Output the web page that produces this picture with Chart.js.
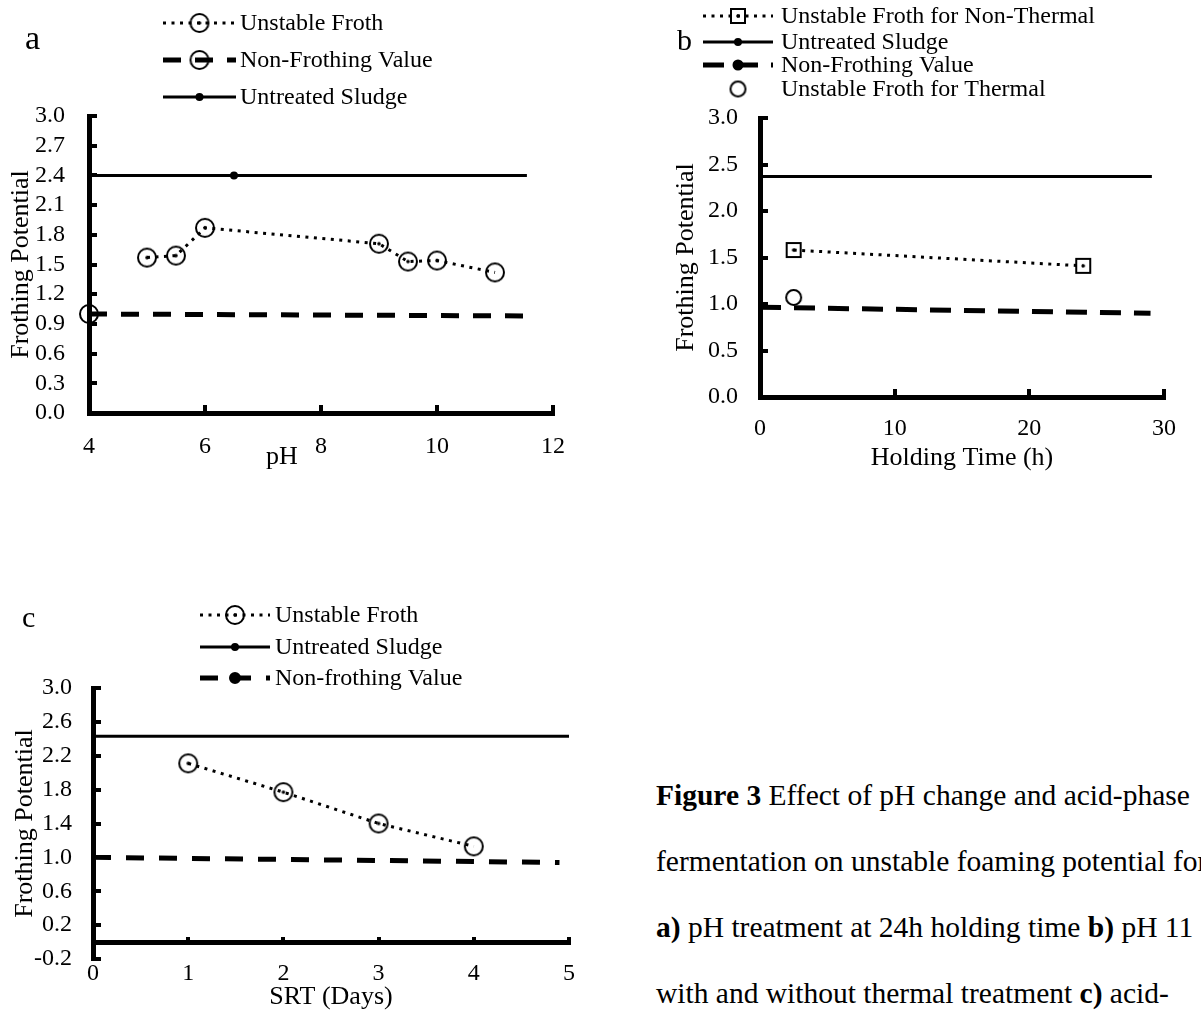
<!DOCTYPE html>
<html>
<head>
<meta charset="utf-8">
<script src="https://cdn.jsdelivr.net/npm/chart.js@4"></script>
<style>
  body { margin: 0; background: #fff; width: 1201px; height: 1013px; overflow: hidden; position: relative;
         font-family: "Liberation Serif", "Times New Roman", serif; color: #000; }
  .panel { position: absolute; }
  .letter { position: absolute; line-height: 1; }
  .caption { position: absolute; left: 656px; top: 762px; font-size: 29.5px; line-height: 66px; white-space: nowrap; }
</style>
</head>
<body>
<div class="panel" style="left:0;top:0;width:600px;height:480px"><canvas id="chartA"></canvas></div>
<div class="panel" style="left:600px;top:0;width:601px;height:480px"><canvas id="chartB"></canvas></div>
<div class="panel" style="left:0;top:590px;width:600px;height:450px"><canvas id="chartC"></canvas></div>

<div class="letter" style="left:25px;top:21px;font-size:34px">a</div>
<div class="letter" style="left:677px;top:25px;font-size:30px">b</div>
<div class="letter" style="left:22px;top:602px;font-size:30px">c</div>

<div class="caption"><b>Figure 3</b> Effect of pH change and acid-phase<br>fermentation on unstable foaming potential for<br><b>a)</b> pH treatment at 24h holding time <b>b)</b> pH 11<br>with and without thermal treatment <b>c)</b> acid-</div>

<script>
// panel a - pH treatment
const phValues = [5, 5.5, 6, 9, 9.5, 10, 11];
const phFroth = [1.57, 1.59, 1.87, 1.71, 1.53, 1.54, 1.42];
const phSludgeX = [4, 6.5, 11.55];
const phSludgeY = [2.4, 2.4, 2.4];
const phNonFrothX = [4, 11.7];
const phNonFrothY = [1.0, 0.98];
const phXTicks = [4, 6, 8, 10, 12];
const phYTicks = [0, 0.3, 0.6, 0.9, 1.2, 1.5, 1.8, 2.1, 2.4, 2.7, 3.0];

// panel b - holding time
const holdTimes = [2.5, 24];
const holdFrothNonThermal = [1.58, 1.41];
const holdThermalX = [2.5];
const holdThermalY = [1.07];
const holdSludgeX = [0, 29.1];
const holdSludgeY = [2.37, 2.37];
const holdNonFrothX = [0, 29];
const holdNonFrothY = [0.965, 0.9];
const holdXTicks = [0, 10, 20, 30];
const holdYTicks = [0, 0.5, 1.0, 1.5, 2.0, 2.5, 3.0];

// panel c - SRT
const srtDays = [1, 2, 3, 4];
const srtFroth = [2.11, 1.77, 1.40, 1.13];
const srtSludgeX = [0, 5];
const srtSludgeY = [2.43, 2.43];
const srtNonFrothX = [0, 4.9];
const srtNonFrothY = [1.0, 0.94];
const srtXTicks = [0, 1, 2, 3, 4, 5];
const srtYTicks = [-0.2, 0.2, 0.6, 1.0, 1.4, 1.8, 2.2, 2.6, 3.0];

Chart.defaults.font.family = '"Liberation Serif", "Times New Roman", serif';
Chart.defaults.color = '#000';
Chart.defaults.animation = false;
Chart.defaults.events = [];
Chart.defaults.plugins.legend.display = false;
Chart.defaults.plugins.tooltip.enabled = false;

const pts = (xs, ys) => xs.map((x, i) => ({ x: x, y: ys[i] }));

function marker(shape, size, dot) {
  const c = document.createElement('canvas');
  c.width = c.height = size + 6;
  const g = c.getContext('2d');
  const m = c.width / 2;
  g.strokeStyle = '#000';
  g.lineWidth = 2;
  g.beginPath();
  if (shape === 'circle') g.arc(m, m, size / 2, 0, Math.PI * 2);
  else g.rect(m - size / 2, m - size / 2, size, size);
  g.stroke();
  if (dot) {
    g.fillStyle = '#000';
    g.beginPath();
    g.arc(m, m, 1.8, 0, Math.PI * 2);
    g.fill();
  }
  return c;
}
const circleDot = marker('circle', 18, true);
const circlePlain = marker('circle', 18, false);
const circleSmall = marker('circle', 15, false);
const squareDot = marker('square', 14, true);

// legend with line sample + marker, drawn like the spreadsheet legend
const refLegend = {
  id: 'refLegend',
  afterDraw(chart, args, opts) {
    const ctx = chart.ctx;
    ctx.save();
    ctx.font = '24px "Liberation Serif"';
    ctx.textBaseline = 'middle';
    ctx.fillStyle = '#000';
    ctx.strokeStyle = '#000';
    chart.data.datasets.forEach((ds, i) => {
      const y = opts.rows[i];
      if (ds.showLine !== false) {
        ctx.lineWidth = ds.borderWidth;
        ctx.setLineDash(ds.borderDash || []);
        ctx.beginPath();
        ctx.moveTo(opts.x0, y);
        ctx.lineTo(opts.x1, y);
        ctx.stroke();
      }
      ctx.setLineDash([]);
      const mk = ds.legendMarker || { style: Array.isArray(ds.pointStyle) ? ds.pointStyle[0] : ds.pointStyle, r: 8 };
      Chart.helpers.drawPoint(ctx, { pointStyle: mk.style, radius: mk.r, borderWidth: 1, rotation: 0 }, (opts.x0 + opts.x1) / 2, y);
      ctx.fillText(ds.label, opts.textX, y + 1);
    });
    ctx.restore();
  }
};

function axis(ticksArr, size, opts) {
  const horizontal = opts.horizontal;
  return Object.assign({
    type: 'linear',
    min: ticksArr[0],
    max: ticksArr[ticksArr.length - 1],
    afterBuildTicks: s => { s.ticks = ticksArr.map(v => ({ value: v })); },
    afterFit: s => { if (horizontal) s.height = size; else s.width = size; },
    border: { width: 5, color: '#000' },
    grid: { drawOnChartArea: false, tickLength: -8, lineWidth: 4, color: '#000' },
    ticks: { font: { size: 24 }, padding: opts.padding, maxRotation: 0, autoSkip: false,
             callback: v => opts.decimals ? v.toFixed(1) : String(v) },
    title: { display: true, text: opts.title, font: { size: 26 }, padding: opts.titlePadding }
  }, opts.extra || {});
}

const dotted = { borderColor: '#000', backgroundColor: '#000', borderWidth: 3, borderDash: [3, 5.5], tension: 0, clip: false };
const solid = { borderColor: '#000', backgroundColor: '#000', borderWidth: 3, tension: 0, clip: false };
const dashed = { borderColor: '#000', backgroundColor: '#000', borderWidth: 5, tension: 0, clip: false };

new Chart(document.getElementById('chartA'), {
  type: 'line',
  data: {
    datasets: [
      Object.assign({}, dotted, {
        label: 'Unstable Froth',
        data: pts(phValues, phFroth),
        pointStyle: phValues.map((v, i) => i === phValues.length - 1 ? circlePlain : circleDot),
        pointRadius: 9
      }),
      Object.assign({}, dashed, {
        label: 'Non-Frothing Value',
        data: pts(phNonFrothX, phNonFrothY),
        borderDash: [18, 14],
        pointStyle: circlePlain,
        pointRadius: [9, 0]
      }),
      Object.assign({}, solid, {
        label: 'Untreated Sludge',
        data: pts(phSludgeX, phSludgeY),
        pointStyle: 'circle',
        pointRadius: [0, 2.5, 0],
        legendMarker: { style: 'circle', r: 2.5 }
      })
    ]
  },
  options: {
    responsive: true,
    maintainAspectRatio: false,
    layout: { padding: { top: 116, left: 0, right: 47, bottom: 0 } },
    scales: {
      x: axis(phXTicks, 67, { horizontal: true, padding: 27, title: 'pH\u2003\u2003\u2003', titlePadding: { bottom: 7 } }),
      y: axis(phYTicks, 89, { padding: 32, decimals: true, title: 'Frothing Potential', titlePadding: { top: 6 } })
    },
    plugins: { refLegend: { x0: 163, x1: 236, textX: 240, rows: [23, 60, 97] } }
  },
  plugins: [refLegend]
});

new Chart(document.getElementById('chartB'), {
  type: 'line',
  data: {
    datasets: [
      Object.assign({}, dotted, {
        label: 'Unstable Froth for Non-Thermal',
        data: pts(holdTimes, holdFrothNonThermal),
        pointStyle: squareDot,
        pointRadius: 8
      }),
      Object.assign({}, solid, {
        label: 'Untreated Sludge',
        data: pts(holdSludgeX, holdSludgeY),
        pointRadius: 0,
        legendMarker: { style: 'circle', r: 2.5 }
      }),
      Object.assign({}, dashed, {
        label: 'Non-Frothing Value',
        data: pts(holdNonFrothX, holdNonFrothY),
        borderDash: [21, 13],
        pointRadius: 0,
        legendMarker: { style: 'circle', r: 3 }
      }),
      Object.assign({}, solid, {
        label: 'Unstable Froth for Thermal',
        data: pts(holdThermalX, holdThermalY),
        showLine: false,
        pointStyle: circleSmall,
        pointRadius: 8
      })
    ]
  },
  options: {
    responsive: true,
    maintainAspectRatio: false,
    layout: { padding: { top: 118, left: 70, right: 24, bottom: 0 } },
    scales: {
      x: axis(holdXTicks, 83, { horizontal: true, padding: 25, title: 'Holding Time (h)', titlePadding: { bottom: 6 } }),
      y: axis(holdYTicks, 90, { padding: 30, decimals: true, title: 'Frothing Potential', titlePadding: { top: 1 } })
    },
    plugins: { refLegend: { x0: 103, x1: 173, textX: 181, rows: [16, 42, 65, 89] } }
  },
  plugins: [refLegend]
});

new Chart(document.getElementById('chartC'), {
  type: 'line',
  data: {
    datasets: [
      Object.assign({}, dotted, {
        label: 'Unstable Froth',
        data: pts(srtDays, srtFroth),
        pointStyle: srtDays.map((v, i) => i === srtDays.length - 1 ? circlePlain : circleDot),
        pointRadius: 9
      }),
      Object.assign({}, solid, {
        label: 'Untreated Sludge',
        data: pts(srtSludgeX, srtSludgeY),
        pointRadius: 0,
        legendMarker: { style: 'circle', r: 2.5 }
      }),
      Object.assign({}, dashed, {
        label: 'Non-frothing Value',
        data: pts(srtNonFrothX, srtNonFrothY),
        borderDash: [18, 15],
        pointRadius: 0,
        legendMarker: { style: 'circle', r: 3.5 }
      })
    ]
  },
  options: {
    responsive: true,
    maintainAspectRatio: false,
    // x axis sits at y = 0 and takes no layout room, so the space below is padding
    layout: { padding: { top: 98, left: 0, right: 29, bottom: 81 } },
    scales: {
      x: axis(srtXTicks, 81, { horizontal: true, padding: 25, title: 'SRT (Days)', titlePadding: { bottom: 10 },
                               extra: { position: { y: 0 } } }),
      y: axis(srtYTicks, 93, { padding: 29, decimals: true, title: 'Frothing Potential', titlePadding: { top: 10 } })
    },
    plugins: { refLegend: { x0: 200, x1: 270, textX: 275, rows: [25, 57, 88] } }
  },
  plugins: [refLegend]
});
</script>
</body>
</html>
